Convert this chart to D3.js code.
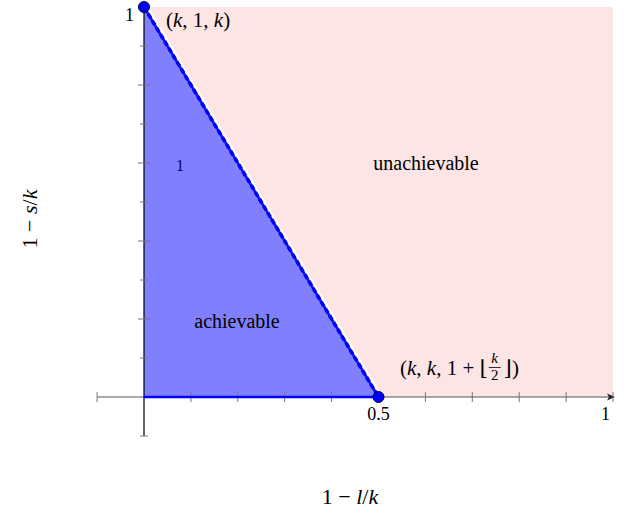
<!DOCTYPE html>
<html>
<head>
<meta charset="utf-8">
<script src="https://cdn.jsdelivr.net/npm/d3@7"></script>
<style>
  body { margin: 0; background: #fff; }
  text { font-family: "Liberation Serif", "DejaVu Serif", serif; }
</style>
</head>
<body>
<svg width="630" height="517"></svg>
<script>
// region corners (in axis units)
var achievable = [[0, 0], [0.5, 0], [0, 1]];
var unachievable = [[0, 1], [1, 1], [1, 0], [0.5, 0]];
var corners = [[0, 1], [0.5, 0]];
var tickVals = d3.range(-1, 11).map(function (i) { return i / 10; });
var xLabels = [[0.5, "0.5"], [1, "1"]];
var yLabels = [[1, "1"]];

var svg = d3.select('svg');

var x = d3.scaleLinear().domain([0, 1]).range([144, 613]);
var y = d3.scaleLinear().domain([0, 1]).range([397, 7]);

var line = d3.line().x(function (d) { return x(d[0]); }).y(function (d) { return y(d[1]); });

/* ----------- regions ----------- */
svg.append('path')
    .attr('d', line(unachievable) + 'Z')
    .attr('fill', '#fde5e5');

// white halo along the boundary (only the pink side stays visible)
svg.append('path')
    .attr('d', line([corners[0], corners[1]]))
    .attr('stroke', '#fff')
    .attr('stroke-width', 8)
    .attr('fill', 'none');

svg.append('path')
    .attr('d', line(achievable) + 'Z')
    .attr('fill', '#8080ff');

/* ----------- axes ----------- */
svg.append('line')
    .attr('x1', x(-0.1)).attr('x2', x(1))
    .attr('y1', y(0)).attr('y2', y(0))
    .attr('stroke', '#555').attr('stroke-width', 1.2);

svg.append('path')
    .attr('d', 'M' + (x(1) + 2) + ',' + y(0) + ' l-8,-3.5 l2,3.5 l-2,3.5 Z')
    .attr('fill', '#222');

svg.append('line')
    .attr('x1', x(0)).attr('x2', x(0))
    .attr('y1', y(-0.1)).attr('y2', y(1))
    .attr('stroke', '#000').attr('stroke-width', 1.2);

svg.selectAll('line.xtick').data(tickVals.filter(function (d) { return d !== 0; }))
    .enter().append('line')
    .attr('class', 'xtick')
    .attr('x1', function (d) { return x(d); }).attr('x2', function (d) { return x(d); })
    .attr('y1', y(0) - 5).attr('y2', y(0) + 5)
    .attr('stroke', '#777').attr('stroke-width', 1);

svg.selectAll('line.ytick').data(tickVals.filter(function (d) { return d !== 0 && d < 1; }))
    .enter().append('line')
    .attr('class', 'ytick')
    .attr('x1', function (d) { return x(0) - (Math.round(d * 10) % 2 === 0 ? 6 : 4); })
    .attr('x2', function (d) { return x(0) + (Math.round(d * 10) % 2 === 0 ? 6 : 4); })
    .attr('y1', function (d) { return y(d); }).attr('y2', function (d) { return y(d); })
    .attr('stroke', '#777').attr('stroke-width', 1);

svg.selectAll('text.xlab').data(xLabels)
    .enter().append('text')
    .attr('class', 'xlab')
    .attr('x', function (d) { return d[0] === 1 ? x(d[0]) - 3 : x(d[0]); })
    .attr('y', y(0) + 23)
    .attr('text-anchor', function (d) { return d[0] === 1 ? 'end' : 'middle'; })
    .attr('font-size', 18)
    .text(function (d) { return d[1]; });

svg.selectAll('text.ylab').data(yLabels)
    .enter().append('text')
    .attr('class', 'ylab')
    .attr('x', x(0) - 10)
    .attr('y', function (d) { return y(d[0]) + 14; })
    .attr('text-anchor', 'end')
    .attr('font-size', 18)
    .text(function (d) { return d[1]; });

/* ----------- boundary lines ----------- */
svg.append('path')
    .attr('d', line([[0, 0], corners[1]]))
    .attr('stroke', '#0000ff').attr('stroke-width', 2.5).attr('fill', 'none');

svg.append('path')
    .attr('d', line([corners[0], corners[1]]))
    .attr('stroke', '#1010ee').attr('stroke-width', 2.6)
    .attr('fill', 'none');

svg.append('path')
    .attr('d', line([corners[0], corners[1]]))
    .attr('stroke', '#0000ff').attr('stroke-width', 3.6)
    .attr('stroke-dasharray', '5,3')
    .attr('fill', 'none');

svg.selectAll('circle').data(corners)
    .enter().append('circle')
    .attr('cx', function (d) { return x(d[0]); })
    .attr('cy', function (d) { return y(d[1]); })
    .attr('r', 5.5)
    .attr('fill', '#0000ff')
    .attr('stroke', '#000033').attr('stroke-width', 1);

/* ----------- labels ----------- */
function mathText(xp, yp, parts, size) {
    var t = svg.append('text').attr('x', xp).attr('y', yp).attr('font-size', size);
    parts.forEach(function (p) {
        t.append('tspan').attr('font-style', p[1] ? 'italic' : 'normal').text(p[0]);
    });
    return t;
}

mathText(166, 27, [['(', 0], ['k', 1], [', 1, ', 0], ['k', 1], [')', 0]], 21);

svg.append('text').attr('x', 180).attr('y', 171)
    .attr('text-anchor', 'middle').attr('font-size', 16)
    .attr('fill', '#00007a').text('1');

svg.append('text').attr('x', 426).attr('y', 170)
    .attr('text-anchor', 'middle').attr('font-size', 20).text('unachievable');

svg.append('text').attr('x', 237).attr('y', 328)
    .attr('text-anchor', 'middle').attr('font-size', 20).text('achievable');

var lab = mathText(400, 375, [['(', 0], ['k', 1], [', ', 0], ['k', 1], [', 1 + \u230A', 0]], 21);
var fx = 400 + lab.node().getComputedTextLength() + 2;
svg.append('text').attr('x', fx + 5).attr('y', 363).attr('text-anchor', 'middle')
    .attr('font-size', 15).attr('font-style', 'italic').text('k');
svg.append('line').attr('x1', fx - 1).attr('x2', fx + 11).attr('y1', 367.5).attr('y2', 367.5)
    .attr('stroke', '#000').attr('stroke-width', 0.8);
svg.append('text').attr('x', fx + 5).attr('y', 380).attr('text-anchor', 'middle')
    .attr('font-size', 15).text('2');
svg.append('text').attr('x', fx + 14).attr('y', 375).attr('font-size', 21).text('\u230B)');

/* ----------- axis titles ----------- */
mathText(0, 0, [['1 \u2212 ', 0], ['l', 1], ['/', 0], ['k', 1]], 22)
    .attr('x', 350).attr('y', 504).attr('text-anchor', 'middle');

mathText(0, 0, [['1 \u2212 ', 0], ['s', 1], ['/', 0], ['k', 1]], 22)
    .attr('text-anchor', 'middle')
    .attr('transform', 'translate(37,219) rotate(-90)');
</script>
</body>
</html>
